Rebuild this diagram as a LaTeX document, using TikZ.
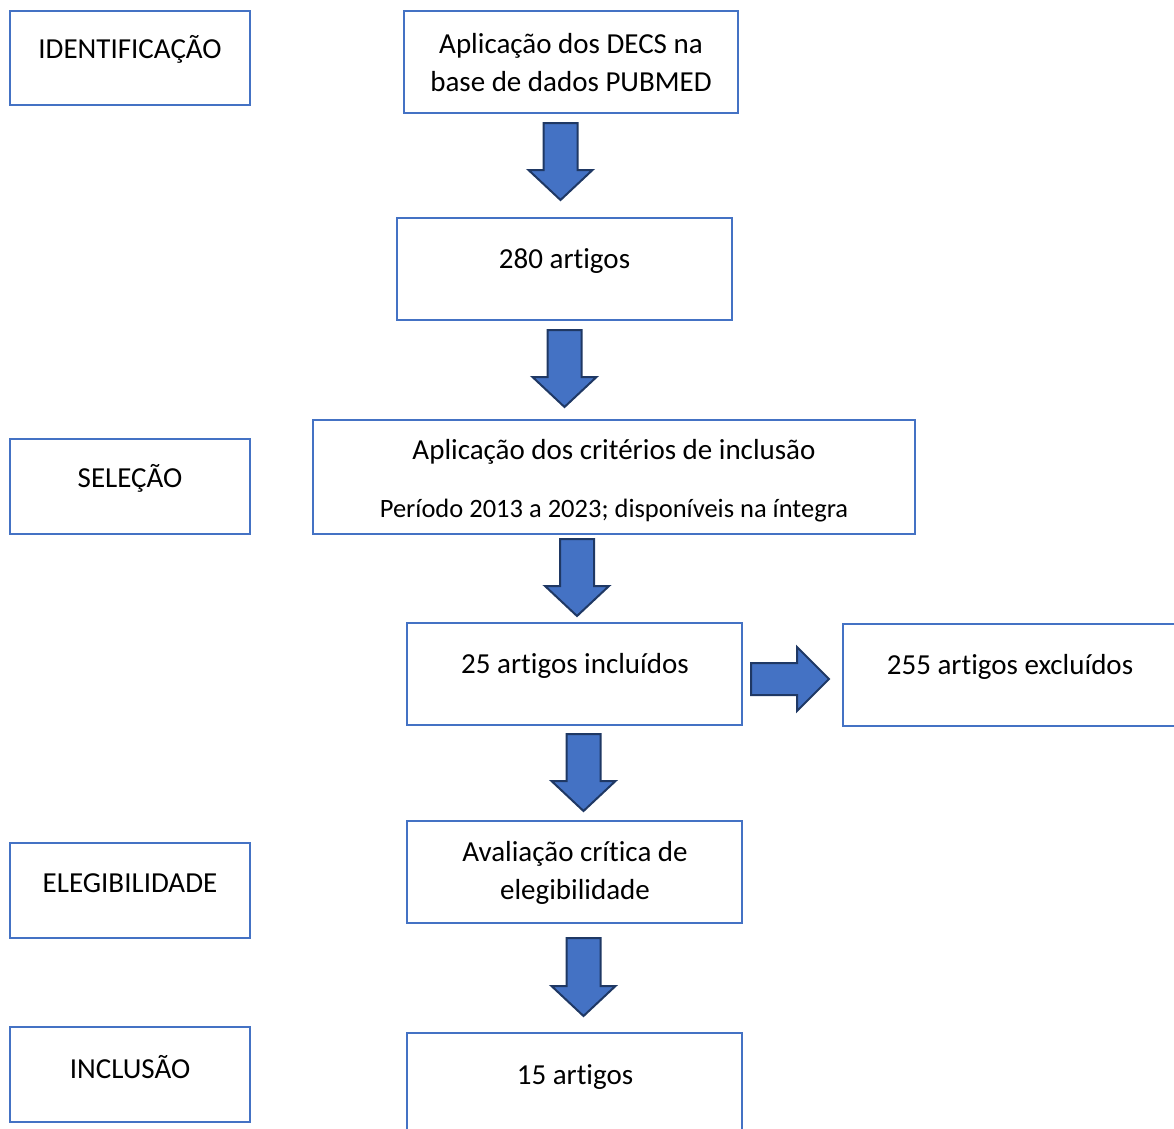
\documentclass[tikz,border=0pt]{standalone}
\usepackage{fontspec}
\setmainfont[Ligatures=NoCommon]{Carlito}
\definecolor{boxblue}{HTML}{4472C4}
\definecolor{arrowfill}{HTML}{4472C4}
\definecolor{arrowline}{HTML}{1F3864}
\newcommand\dnarrow[3]{% cx, top, tip
  \filldraw[arrowstyle] (#1-17,#2) -- (#1+17,#2) -- (#1+17,#3-30) -- (#1+32,#3-30) -- (#1,#3) -- (#1-32,#3-30) -- (#1-17,#3-30) -- cycle;}
\begin{document}
\begin{tikzpicture}[x=1pt,y=-1pt,
  box/.style={draw=boxblue,line width=2.4pt,fill=white,inner sep=0pt},
  txt/.style={font=\fontsize{29}{38}\selectfont,align=center,inner sep=0pt,anchor=center},
  smalltxt/.style={font=\fontsize{26.5}{32}\selectfont,align=center,inner sep=0pt,anchor=center},
  arrowstyle/.style={fill=arrowfill,draw=arrowline,line width=2pt,line join=miter}]
\useasboundingbox (0,0) rectangle (1174,1128);
% left stage boxes
\draw[box] (10,11) rectangle (250,105) node[pos=0.5,opacity=0] (bident) {};
\node[txt] (tident) at (130,49) {IDENTIFICAÇÃO};
\draw[box] (10,439) rectangle (250,534) node[pos=0.5,opacity=0] (bsel) {};
\node[txt] (tsel) at (130,478) {SELEÇÃO};
\draw[box] (10,843) rectangle (250,938) node[pos=0.5,opacity=0] (beleg) {};
\node[txt] (teleg) at (130,883) {ELEGIBILIDADE};
\draw[box] (10,1027) rectangle (250,1122) node[pos=0.5,opacity=0] (bincl) {};
\node[txt] (tincl) at (130,1067) {INCLUSÃO};
% main flow boxes
\draw[box] (404,11) rectangle (738,113) node[pos=0.5,opacity=0] (bdecs) {};
\node[txt] (tdecs) at (571,63) {Aplicação dos DECS na\\base de dados PUBMED};
\draw[box] (397,218) rectangle (732,320) node[pos=0.5,opacity=0] (b280) {};
\node[txt] (t280) at (564.5,261) {280 artigos};
\draw[box] (313,420) rectangle (915,534) node[pos=0.5,opacity=0] (bcrit) {};
\node[txt] (tcrit1) at (614,452) {Aplicação dos critérios de inclusão};
\node[smalltxt] (tcrit2) at (614,511) {Período 2013 a 2023; disponíveis na íntegra};
\draw[box] (407,623) rectangle (742,725) node[pos=0.5,opacity=0] (b25) {};
\node[txt] (t25) at (575,666) {25 artigos incluídos};
\draw[box] (843,624) rectangle (1180,726) node[pos=0.5,opacity=0] (b255) {};
\node[txt] (t255) at (1010,667) {255 artigos excluídos};
\draw[box] (407,821) rectangle (742,923) node[pos=0.5,opacity=0] (baval) {};
\node[txt] (taval) at (575,873) {Avaliação crítica de\\elegibilidade};
\draw[box] (407,1033) rectangle (742,1140) node[pos=0.5,opacity=0] (b15) {};
\node[txt] (t15) at (575,1077) {15 artigos};
% block arrows
\dnarrow{560.5}{123}{200}
\dnarrow{564.5}{330}{407}
\dnarrow{577}{539}{616}
\dnarrow{583.5}{734}{811}
\dnarrow{583.5}{938}{1016}
\filldraw[arrowstyle] (751,663) -- (797,663) -- (797,647) -- (829,679) -- (797,711) -- (797,695) -- (751,695) -- cycle;
\end{tikzpicture}
\end{document}
